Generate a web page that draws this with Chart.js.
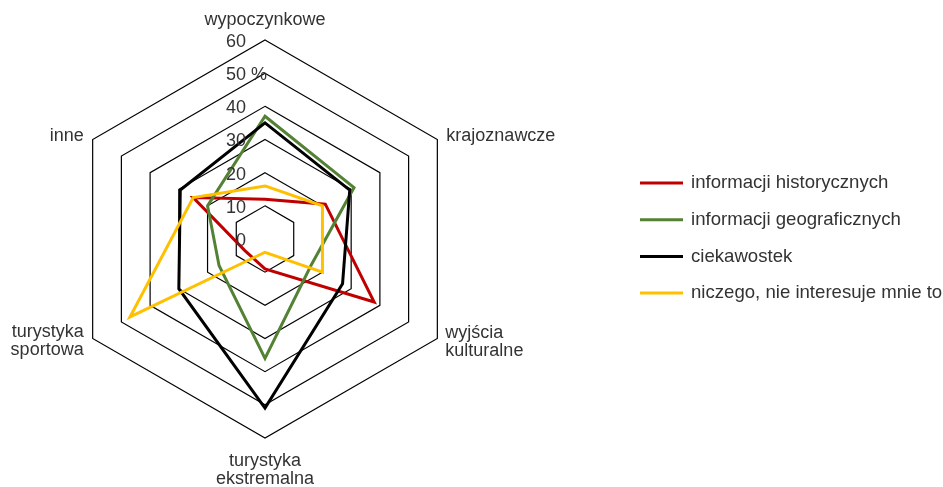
<!DOCTYPE html>
<html>
<head>
<meta charset="utf-8">
<script src="https://cdn.jsdelivr.net/npm/chart.js@4/dist/chart.umd.min.js"></script>
<style>
html,body{margin:0;padding:0;background:#fff;}
#wrap{width:943px;height:487px;position:relative;}
</style>
</head>
<body>
<div id="wrap"><canvas id="c" width="943" height="487"></canvas></div>
<script>
const categories = ['wypoczynkowe', 'krajoznawcze', ['wyjścia', 'kulturalne'], ['turystyka', 'ekstremalna'], ['turystyka', 'sportowa'], 'inne'];
const seriesNames = ['informacji historycznych', 'informacji geograficznych', 'ciekawostek', 'niczego, nie interesuje mnie to'];
const historyczne = [12, 21, 38, 9, 7, 25];
const geograficzne = [37, 31, 16, 36, 16, 20];
const ciekawostki = [35, 29.5, 27, 51, 30, 29.5];
const niczego = [16, 20, 20, 4, 47, 25];
const tickValues = [0, 10, 20, 30, 40, 50, 60];
const tickUnitAt = 50;
const tickUnit = '%';
const colors = ['#C00000', '#548235', '#000000', '#FFC000'];

const FONT = '18px "Liberation Sans", Arial, sans-serif';
const LEGEND_FONT = '18.6px "Liberation Sans", Arial, sans-serif';
const TEXT = '#333333';

const seriesValues = [historyczne, geograficzne, ciekawostki, niczego];

const labelOffsets = [
  {align: 'center', dx: 0, dy: -20},
  {align: 'left', dx: 9, dy: -3},
  {align: 'left', dx: 8, dy: 4},
  {align: 'center', dx: 0, dy: 32},
  {align: 'right', dx: -9, dy: 3},
  {align: 'right', dx: -9, dy: -3}
];

const customText = {
  id: 'customText',
  afterDraw(chart) {
    const ctx = chart.ctx;
    const s = chart.scales.r;
    ctx.save();
    ctx.font = FONT;
    ctx.fillStyle = TEXT;
    ctx.textBaseline = 'middle';
    // tick labels
    tickValues.forEach(v => {
      const y = s.yCenter - s.getDistanceFromCenterForValue(v) + 2;
      const x = s.xCenter - 19;
      ctx.textAlign = 'right';
      ctx.fillText(String(v), x, y);
      if (v === tickUnitAt) {
        ctx.textAlign = 'left';
        ctx.fillText(' ' + tickUnit, x, y);
      }
    });
    // point labels
    categories.forEach((lab, i) => {
      const p = s.getPointPosition(i, s.drawingArea);
      const o = labelOffsets[i];
      const lines = Array.isArray(lab) ? lab : [lab];
      const lh = 18;
      ctx.textAlign = o.align;
      const y0 = p.y + o.dy - (lines.length - 1) * lh / 2;
      lines.forEach((t, k) => ctx.fillText(t, p.x + o.dx, y0 + k * lh));
    });
    // legend
    ctx.font = LEGEND_FONT;
    const lx = 640, lw = 43, ty = 183, step = 36.7;
    seriesNames.forEach((n, i) => {
      const y = ty + i * step;
      ctx.strokeStyle = colors[i];
      ctx.lineWidth = 3;
      ctx.beginPath();
      ctx.moveTo(lx, y);
      ctx.lineTo(lx + lw, y);
      ctx.stroke();
      ctx.textAlign = 'left';
      ctx.fillStyle = TEXT;
      ctx.fillText(n, lx + 51, y);
    });
    ctx.restore();
  }
};

new Chart(document.getElementById('c'), {
  type: 'radar',
  data: {
    labels: categories,
    datasets: seriesValues.map((vals, i) => ({
      label: seriesNames[i],
      data: vals,
      borderColor: colors[i],
      backgroundColor: 'transparent',
      borderWidth: 3,
      pointRadius: 0,
      pointHoverRadius: 0,
      fill: false,
      tension: 0,
      order: 4 - i
    }))
  },
  options: {
    responsive: false,
    animation: false,
    events: [],
    layout: {padding: {left: 65, right: 478, top: 40, bottom: 48}},
    plugins: {legend: {display: false}, tooltip: {enabled: false}},
    scales: {
      r: {
        min: 0,
        max: 60,
        ticks: {display: false, stepSize: 10},
        pointLabels: {display: false},
        angleLines: {display: false},
        grid: {circular: false, color: '#000000', lineWidth: 1.2}
      }
    }
  },
  plugins: [customText]
});
</script>
</body>
</html>
